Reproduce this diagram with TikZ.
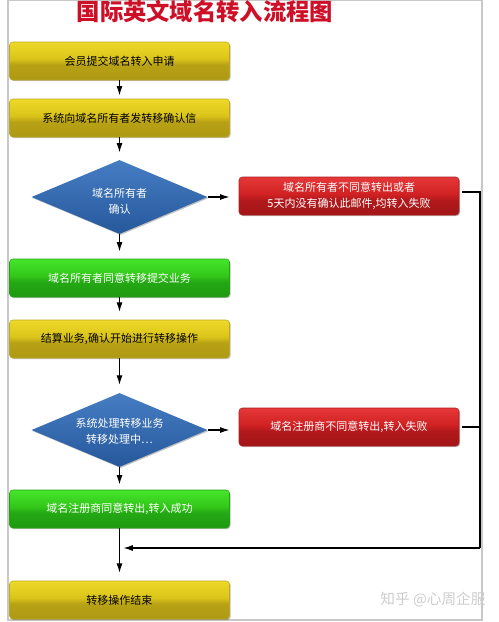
\documentclass[tikz,border=0pt]{standalone}
\usepackage{fontspec}
\newfontfamily\cjk{Noto Sans CJK SC}
\usetikzlibrary{arrows.meta,shapes.geometric,shadows}
\pgfdeclareverticalshading{ysh}{100bp}{rgb(0bp)=(0.68,0.60,0.08); rgb(25bp)=(0.68,0.60,0.08); rgb(45bp)=(0.72,0.63,0.08); rgb(53bp)=(0.86,0.77,0.10); rgb(75bp)=(0.93,0.85,0.16); rgb(100bp)=(0.93,0.85,0.16)}
\pgfdeclareverticalshading{rsh}{100bp}{rgb(0bp)=(0.64,0.08,0.09); rgb(25bp)=(0.64,0.08,0.09); rgb(45bp)=(0.70,0.10,0.11); rgb(53bp)=(0.82,0.13,0.14); rgb(75bp)=(0.90,0.22,0.22); rgb(100bp)=(0.90,0.22,0.22)}
\pgfdeclareverticalshading{gsh}{100bp}{rgb(0bp)=(0.12,0.60,0.07); rgb(25bp)=(0.12,0.60,0.07); rgb(45bp)=(0.14,0.66,0.08); rgb(53bp)=(0.20,0.78,0.10); rgb(75bp)=(0.27,0.90,0.17); rgb(100bp)=(0.27,0.90,0.17)}
\definecolor{titlered}{RGB}{205,16,40}
\definecolor{bluetop}{RGB}{70,125,195}
\definecolor{bluebot}{RGB}{38,88,155}
\begin{document}
\begin{tikzpicture}[x=0.75pt,y=-0.75pt,
  font=\cjk\fontsize{8.25}{12}\selectfont,
  boxbase/.style={rectangle,rounded corners=2.5pt,minimum width=165pt,minimum height=28.5pt,inner sep=0pt,align=center,
    drop shadow={shadow xshift=0.8pt,shadow yshift=-0.8pt,opacity=0.25,fill=black}},
  ybox/.style={boxbase,shading=ysh,draw={rgb,255:red,190;green,168;blue,30},text=black},
  rbox/.style={boxbase,shading=rsh,draw={rgb,255:red,170;green,30;blue,30},text=white},
  gbox/.style={boxbase,shading=gsh,draw={rgb,255:red,40;green,160;blue,20},text=white},
  dia/.style={diamond,shape aspect=2.38,minimum width=132pt,minimum height=55.5pt,inner sep=0pt,
    top color=bluetop,bottom color=bluebot,
    drop shadow={shadow xshift=0.8pt,shadow yshift=-0.8pt,opacity=0.25,fill=black}},
  diatext/.style={text=white,align=center,inner sep=0pt},
  arr/.style={draw=black,line width=0.8pt,-{Latex[length=7pt,width=4.5pt]}},
  ln/.style={draw=black,line width=0.8pt}
]
\useasboundingbox (0,0) rectangle (499,622);
\draw[draw={rgb,255:red,200;green,200;blue,200},line width=0.8pt] (8,0.5) rectangle (482,620);
\node[text=titlered,font=\cjk\bfseries\fontsize{17.5}{20}\selectfont] (title) at (205,12) {国际英文域名转入流程图};
\node[ybox] (b1) at (119.5,61) {会员提交域名转入申请};
\node[ybox] (b2) at (119.5,118) {系统向域名所有者发转移确认信};
\node[dia] (d1) at (119.5,197) {};
\node[diatext] (d1t) at (119.5,201) {域名所有者\\确认};
\node[rbox] (r1) at (349,196) {域名所有者不同意转出或者\\5天内没有确认此邮件,均转入失败};
\node[gbox] (g1) at (119.5,278) {域名所有者同意转移提交业务};
\node[ybox] (b3) at (119.5,339) {结算业务,确认开始进行转移操作};
\node[dia] (d2) at (119.5,430) {};
\node[diatext] (d2t) at (119.5,431) {系统处理转移业务\\转移处理中…};
\node[rbox] (r2) at (349,427) {域名注册商不同意转出,转入失败};
\node[gbox] (g2) at (119.5,509) {域名注册商同意转出,转入成功};
\node[ybox] (b4) at (119.5,600) {转移操作结束};
\node[text={rgb,255:red,205;green,205;blue,205},font=\cjk\fontsize{11}{13}\selectfont] (wm) at (433,600) {知乎 @心周企服};
\coordinate (c1) at (480,192);
\coordinate (c2) at (480,548);
\coordinate (m) at (119.5,548);
\path[arr,shorten >=2.5pt] (b1.south) -- (b2.north);
\path[arr,shorten >=5.5pt] (b2.south) -- (d1.north);
\path[arr,shorten >=5.5pt] (d1.south) -- (g1.north);
\path[arr,shorten >=6pt] (g1.south) -- (b3.north);
\path[arr,shorten >=6pt] (b3.south) -- (d2.north);
\path[arr,shorten >=4pt] (d2.south) -- (g2.north);
\path[arr,shorten >=7pt] (d1.east) -- (d1.east -| r1.west);
\path[arr,shorten >=7pt] (d2.east) -- (d2.east -| r2.west);
\path[ln] ([xshift=2pt]r1.east |- c1) -- (c1) -- (c2);
\path[ln] ([xshift=2pt]r2.east) -- (r2.east -| c1);
\path[arr,shorten >=3pt] (c2) -- (m);
\path[arr,shorten >=6pt] (g2.south) -- (b4.north);
\end{tikzpicture}
\end{document}
